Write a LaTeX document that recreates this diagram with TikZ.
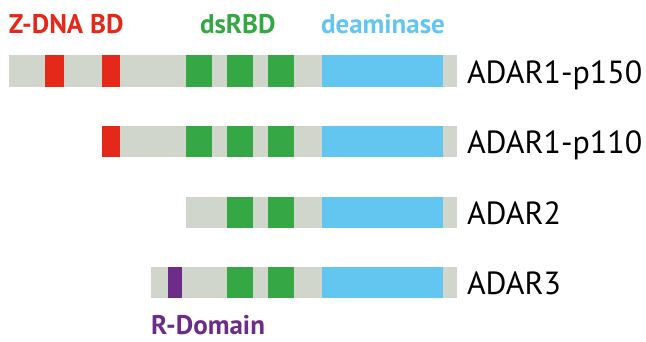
\documentclass[tikz,border=0pt]{standalone}
\usepackage{fontspec}
\setmainfont{PT Sans}
\definecolor{barGrey}{HTML}{D1D6CC}
\definecolor{zRed}{HTML}{E42819}
\definecolor{dsGreen}{HTML}{35A744}
\definecolor{deBlue}{HTML}{62C6F1}
\definecolor{rPurple}{HTML}{6D2C88}
\begin{document}
\begin{tikzpicture}[x=1pt, y=-1pt]
\tikzset{ inner sep=0pt, outer sep=0pt,
  bar/.style={fill=barGrey},
  zdna/.style={fill=zRed},
  dsrbd/.style={fill=dsGreen},
  deam/.style={fill=deBlue},
  rdom/.style={fill=rPurple},
  protlabel/.style={anchor=base west, font=\fontsize{32}{32}\selectfont},
  head/.style={anchor=base west, font=\fontsize{27}{27}\selectfont\bfseries},
}
\useasboundingbox (0,0) rectangle (646,341);

% ADAR1-p150
\fill [bar]   (9,55)   rectangle (457,87);
\fill [zdna]  (45,55)  rectangle (64,87);
\fill [zdna]  (102,55) rectangle (120,87);
\fill [dsrbd] (186,55) rectangle (212,87);
\fill [dsrbd] (227,55) rectangle (253,87);
\fill [dsrbd] (268,55) rectangle (294,87);
\fill [deam]  (322,55) rectangle (443,87);

% ADAR1-p110
\fill [bar]   (102,126) rectangle (457,157);
\fill [zdna]  (102,126) rectangle (120,157);
\fill [dsrbd] (186,126) rectangle (212,157);
\fill [dsrbd] (227,126) rectangle (253,157);
\fill [dsrbd] (268,126) rectangle (294,157);
\fill [deam]  (322,126) rectangle (443,157);

% ADAR2
\fill [bar]   (186,197) rectangle (457,228);
\fill [dsrbd] (227,197) rectangle (253,228);
\fill [dsrbd] (268,197) rectangle (294,228);
\fill [deam]  (322,197) rectangle (443,228);

% ADAR3
\fill [bar]   (151,267) rectangle (457,298);
\fill [rdom]  (168,267) rectangle (182,298);
\fill [dsrbd] (227,267) rectangle (253,298);
\fill [dsrbd] (268,267) rectangle (294,298);
\fill [deam]  (322,267) rectangle (443,298);

\node [protlabel] (p150) at (467,83)  {ADAR1-p150};
\node [protlabel] (p110) at (467,153) {ADAR1-p110};
\node [protlabel] (A2)   at (467,224) {ADAR2};
\node [protlabel] (A3)   at (467,294) {ADAR3};

\node [head, text=zRed]    (ZD) at (9,33)    {Z-DNA BD};
\node [head, text=dsGreen] (DS) at (200,33)  {dsRBD};
\node [head, text=deBlue]  (DE) at (321,33)  {deaminase};
\node [head, text=rPurple] (RD) at (151,334) {R-Domain};

\end{tikzpicture}
\end{document}
